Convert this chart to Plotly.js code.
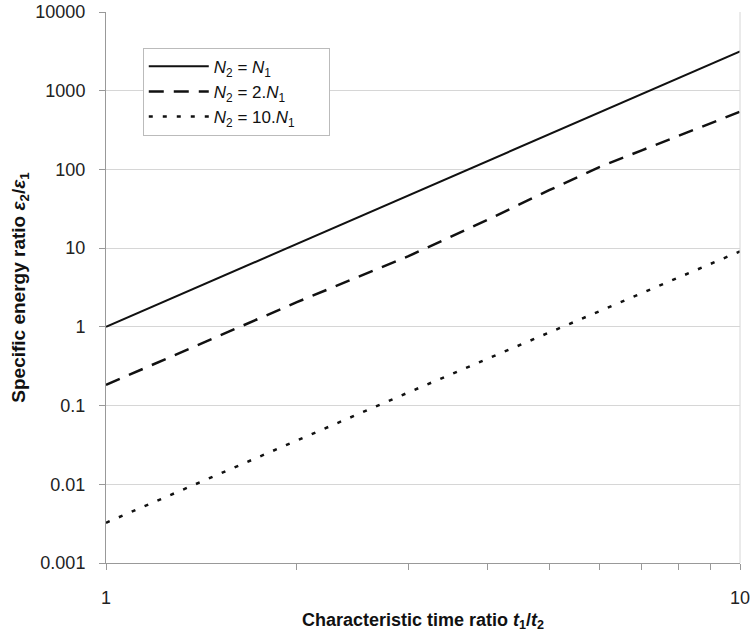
<!DOCTYPE html>
<html>
<head>
<meta charset="utf-8">
<script src="https://cdn.plot.ly/plotly-3.0.1.min.js"></script>
<style>html,body{margin:0;padding:0;background:#fff;}#chart{width:753px;height:640px;}</style>
</head>
<body>
<div id="chart"></div>
<script>
// Characteristic time ratio t1/t2
const timeRatio = [1, 2, 3, 4, 5, 6, 7, 8, 9, 10];
// Specific energy ratio for each case
const energyEqual = [1, 11.3, 46.8, 128, 279, 529, 907, 1448, 2187, 3162];
const energyDouble = [0.183, 2.06, 7.9, 23.0, 54.4, 107, 175, 267, 387, 541];
const energyTen = [0.00324, 0.0365, 0.147, 0.394, 0.847, 1.58, 2.69, 4.24, 6.35, 9.1];

const seriesNames = [
  "<i>N</i><sub>2</sub> = <i>N</i><sub>1</sub>",
  "<i>N</i><sub>2</sub> = 2.<i>N</i><sub>1</sub>",
  "<i>N</i><sub>2</sub> = 10.<i>N</i><sub>1</sub>"
];
const yTickVals = [0.001, 0.01, 0.1, 1, 10, 100, 1000, 10000];
const yTickText = ["0.001", "0.01", "0.1", "1", "10", "100", "1000", "10000"];
const xTickVals = [1, 2, 3, 4, 5, 6, 7, 8, 9, 10];
const xTickText = ["1", "", "", "", "", "", "", "", "", "10"];

const FONT = "Liberation Sans, Arial, sans-serif";
const PAD = "\u00a0\u00a0\u00a0\u00a0\u00a0\u00a0";

const traces = [
  {x: timeRatio, y: energyEqual, name: seriesNames[0] + PAD, mode: "lines",
   line: {color: "#111", width: 2, dash: "solid"}},
  {x: timeRatio, y: energyDouble, name: seriesNames[1] + PAD, mode: "lines",
   line: {color: "#111", width: 2.5, dash: "15px,10px"}},
  {x: timeRatio, y: energyTen, name: seriesNames[2] + PAD, mode: "lines",
   line: {color: "#111", width: 2.5, dash: "4px,10px"}}
];

const layout = {
  width: 753, height: 640,
  margin: {l: 106, r: 13, t: 12, b: 77, pad: 0},
  paper_bgcolor: "#fff", plot_bgcolor: "#fff",
  font: {family: FONT, color: "#222", size: 14},
  showlegend: true,
  legend: {
    x: 0.058, y: 0.935, xanchor: "left", yanchor: "top",
    bgcolor: "#fff", bordercolor: "#bbb", borderwidth: 1,
    font: {family: FONT, size: 17, color: "#111"},
    tracegroupgap: 0, itemwidth: 60
  },
  xaxis: {
    type: "log", range: [0, 1],
    tickvals: xTickVals, ticktext: xTickText,
    ticks: "outside", ticklen: 6, tickcolor: "#999", tickwidth: 1,
    ticklabelstandoff: 12,
    showline: true, linecolor: "#999", linewidth: 1,
    showgrid: false, zeroline: false,
    tickfont: {family: FONT, size: 18, color: "#222"},
    title: {text: "<b>Characteristic time ratio <i>t</i><sub>1</sub>/<i>t</i><sub>2</sub></b>",
            font: {family: FONT, size: 18, color: "#111"}, standoff: 6},
    automargin: false
  },
  yaxis: {
    type: "log", range: [-3, 4],
    tickvals: yTickVals, ticktext: yTickText,
    ticks: "outside", ticklen: 6, tickcolor: "#999", tickwidth: 1,
    ticklabelstandoff: 10,
    showline: true, linecolor: "#999", linewidth: 1,
    showgrid: true, gridcolor: "#d6d6d6", gridwidth: 1,
    zeroline: false,
    tickfont: {family: FONT, size: 18, color: "#222"},
    title: {text: "<b>Specific energy ratio <i>ε</i><sub>2</sub>/<i>ε</i><sub>1</sub></b>",
            font: {family: FONT, size: 19, color: "#111"}, standoff: 4},
    automargin: false
  },
  shapes: [
    {type: "line", xref: "paper", yref: "paper", x0: 1, x1: 1, y0: 0, y1: 1,
     line: {color: "#d6d6d6", width: 1}}
  ]
};

Plotly.newPlot("chart", traces, layout, {displayModeBar: false, staticPlot: true});
</script>
</body>
</html>
